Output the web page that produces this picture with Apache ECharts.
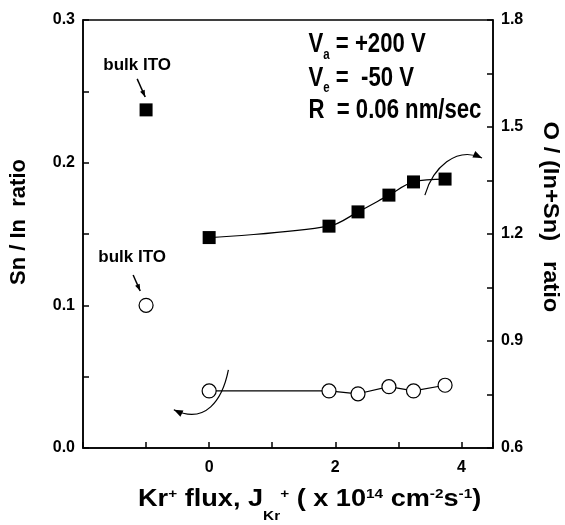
<!DOCTYPE html>
<html>
<head>
<meta charset="utf-8">
<script src="https://cdn.jsdelivr.net/npm/echarts@6/dist/echarts.min.js"></script>
<style>
  html, body { margin: 0; padding: 0; background: #fff; }
  #main { width: 565px; height: 525px; }
</style>
</head>
<body>
<div id="main"></div>
<script>
// Kr+ flux (x 10^14 cm^-2 s^-1)
var xFlux = [0, 1.9, 2.36, 2.85, 3.24, 3.74]
// Sn / In ratio (open circles, left axis)
var snInRatio = [0.040, 0.040, 0.038, 0.043, 0.040, 0.044]
// O / (In+Sn) ratio (filled squares, right axis)
var oRatio = [1.19, 1.222, 1.262, 1.309, 1.346, 1.354]
// bulk ITO reference points
var bulkX = [-1]
var bulkSnIn = [0.100]
var bulkO = [1.548]
// labelled ticks
var xLabels = [0, 2, 4]

var FONT = '"Liberation Sans", Arial, Helvetica, sans-serif'

function pairs(xs, ys) {
  return xs.map(function (x, i) { return [x, ys[i]] })
}

var chart = echarts.init(document.getElementById('main'))

var axisLine = { show: true, onZero: false, lineStyle: { color: '#000', width: 1.5 } }
var tick = { inside: true, length: 6, lineStyle: { color: '#000', width: 1.5 } }
var minorTick = { show: true, splitNumber: 2, length: 6, lineStyle: { color: '#000', width: 1.5 } }
var label = { color: '#000', fontWeight: 'bold', fontSize: 16, fontFamily: FONT }

var option = {
  backgroundColor: '#fff',
  animation: false,
  textStyle: { fontFamily: FONT },
  grid: { left: 83, right: 72, top: 20, bottom: 77, show: true, borderColor: '#000', borderWidth: 1.5 },
  xAxis: {
    type: 'value', min: -2, max: 4.5, interval: 1,
    axisLine: axisLine, axisTick: tick,
    axisLabel: Object.assign({}, label, {
      margin: 12,
      formatter: function (v) { return xLabels.indexOf(v) >= 0 ? String(v) : '' }
    }),
    splitLine: { show: false }
  },
  yAxis: [{
    type: 'value', min: 0, max: 0.3, interval: 0.1, position: 'left',
    axisLine: axisLine, axisTick: tick, minorTick: minorTick,
    axisLabel: Object.assign({}, label, {
      margin: 8,
      formatter: function (v) { return v.toFixed(1) }
    }),
    splitLine: { show: false }
  }, {
    type: 'value', min: 0.6, max: 1.8, interval: 0.3, position: 'right',
    axisLine: axisLine, axisTick: tick, minorTick: minorTick,
    axisLabel: Object.assign({}, label, {
      margin: 8,
      formatter: function (v) { return v.toFixed(1) }
    }),
    splitLine: { show: false }
  }],
  series: [{
    name: 'Sn/In', type: 'line', yAxisIndex: 0,
    data: pairs(xFlux, snInRatio),
    symbol: 'circle', symbolSize: 14,
    itemStyle: { color: '#fff', borderColor: '#000', borderWidth: 1.2, opacity: 1 },
    lineStyle: { color: '#000', width: 1.2 },
    z: 3
  }, {
    name: 'O/(In+Sn)', type: 'line', yAxisIndex: 1,
    data: pairs(xFlux, oRatio),
    smooth: 0.35,
    symbol: 'rect', symbolSize: 13,
    itemStyle: { color: '#000', opacity: 1 },
    lineStyle: { color: '#000', width: 1.2 },
    z: 3
  }, {
    name: 'bulk Sn/In', type: 'scatter', yAxisIndex: 0,
    data: pairs(bulkX, bulkSnIn),
    symbol: 'circle', symbolSize: 14,
    itemStyle: { color: '#fff', borderColor: '#000', borderWidth: 1.2, opacity: 1 }
  }, {
    name: 'bulk O', type: 'scatter', yAxisIndex: 1,
    data: pairs(bulkX, bulkO),
    symbol: 'rect', symbolSize: 13,
    itemStyle: { color: '#000', opacity: 1 }
  }]
}

chart.setOption(option)

// annotations, placed in data units (x flux, left axis) then converted to pixels
function px(p) {
  return chart.convertToPixel({ xAxisIndex: 0, yAxisIndex: 0 }, p)
}

function head(tip, from, len, w) {
  var dx = tip[0] - from[0], dy = tip[1] - from[1]
  var d = Math.sqrt(dx * dx + dy * dy)
  dx /= d; dy /= d
  var bx = tip[0] - dx * len, by = tip[1] - dy * len
  return {
    type: 'polygon',
    shape: { points: [tip, [bx - dy * w, by + dx * w], [bx + dy * w, by - dx * w]] },
    style: { fill: '#000' }
  }
}

function curveArrow(pts) {
  var p = pts.map(px)
  return [{
    type: 'bezierCurve',
    shape: { x1: p[0][0], y1: p[0][1], cpx1: p[1][0], cpy1: p[1][1], cpx2: p[2][0], cpy2: p[2][1], x2: p[3][0], y2: p[3][1] },
    style: { stroke: '#000', lineWidth: 1.2, fill: null }
  }, head(p[3], p[2], 9, 3.5)]
}

function shortArrow(a, b) {
  var p = px(a), q = px(b)
  return [{
    type: 'line',
    shape: { x1: p[0], y1: p[1], x2: q[0], y2: q[1] },
    style: { stroke: '#000', lineWidth: 1.5 }
  }, head(q, p, 7, 2.5)]
}

function text(pos, str, size) {
  var p = px(pos)
  return {
    type: 'text', x: p[0], y: p[1],
    style: {
      text: str, fill: '#000', font: 'bold ' + size + 'px ' + FONT,
      align: 'center', verticalAlign: 'middle', textAlign: 'center', textVerticalAlign: 'middle'
    }
  }
}

var sub = { fontSize: 14, fontWeight: 'bold', fontFamily: FONT, padding: [20, 0, 0, 0] }
var main = { fontSize: 27, fontWeight: 'bold', fontFamily: FONT, lineHeight: 30 }
var condRich = { m: main, s: sub }

// condition lines are drawn horizontally squeezed, like the narrow face in the original
function condLine(pos, str) {
  var p = px(pos)
  return {
    type: 'text', x: p[0], y: p[1], scaleX: 0.82,
    style: {
      text: str, fill: '#000', rich: condRich,
      align: 'left', verticalAlign: 'middle', textAlign: 'left', textVerticalAlign: 'middle'
    }
  }
}

var titleM = { fontSize: 23, fontWeight: 'bold', fontFamily: FONT, lineHeight: 40 }
var titleSup = { fontSize: 13, fontWeight: 'bold', fontFamily: FONT, padding: [0, 0, 12, 0] }
var titleSub = { fontSize: 13, fontWeight: 'bold', fontFamily: FONT, padding: [32, 0, 0, 0] }

var graphics = []
  .concat(curveArrow([[0.305, 0.0547], [0.21, 0.0336], [-0.06, 0.0161], [-0.56, 0.0268]]))
  .concat(curveArrow([[3.42, 0.1773], [3.548, 0.1963], [3.913, 0.2117], [4.326, 0.2033]]))
  .concat(shortArrow([-1.141, 0.2587], [-1.014, 0.246]))
  .concat(shortArrow([-1.205, 0.1213], [-1.093, 0.11]))
  .concat([
    text([-1.141, 0.2685], 'bulk ITO', 17),
    text([-1.221, 0.1339], 'bulk ITO', 17),
    condLine([1.575, 0.2825], '{m|V}{s|a}{m| = +200 V}'),
    condLine([1.575, 0.2593], '{m|V}{s|e}{m| =  -50 V}'),
    condLine([1.575, 0.2362], '{m|R  = 0.06 nm/sec}'),
    {
      type: 'text', x: 19, y: 222, rotation: Math.PI / 2,
      style: {
        text: 'Sn / In  ratio', fill: '#000', font: 'bold 22px ' + FONT,
        align: 'center', verticalAlign: 'middle', textAlign: 'center', textVerticalAlign: 'middle'
      }
    },
    {
      type: 'text', x: 550, y: 217, rotation: -Math.PI / 2, scaleX: 1.08,
      style: {
        text: 'O / (In+Sn)   ratio', fill: '#000', font: 'bold 22px ' + FONT,
        align: 'center', verticalAlign: 'middle', textAlign: 'center', textVerticalAlign: 'middle'
      }
    },
    {
      type: 'text', x: 138, y: 500, scaleX: 1.18,
      style: {
        text: '{m|Kr}{p|+}{m| flux, J}{b|Kr}{p|+}{m| ( x 10}{p|14}{m| cm}{p|-2}{m|s}{p|-1}{m|)}',
        fill: '#000',
        rich: { m: titleM, p: titleSup, b: titleSub },
        align: 'left', verticalAlign: 'middle', textAlign: 'left', textVerticalAlign: 'middle'
      }
    }
  ])

chart.setOption({ graphic: { elements: graphics } })
</script>
</body>
</html>
